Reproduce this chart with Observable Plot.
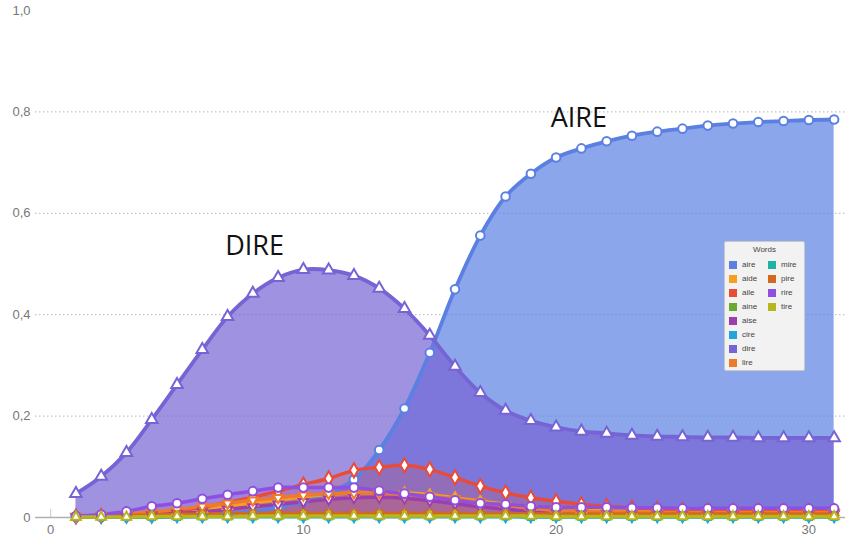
<!DOCTYPE html>
<html><head><meta charset="utf-8">
<script src="https://cdn.jsdelivr.net/npm/d3@7"></script>
<script src="https://cdn.jsdelivr.net/npm/@observablehq/plot@0.6"></script>
<style>
body{margin:0;background:#fff;}
#wrap{position:relative;width:845px;height:539px;overflow:hidden;}
#legend{position:absolute;left:724px;top:241px;width:81px;height:130px;background:#f2f2f2;border:1px solid #c9c9c9;border-radius:2px;box-sizing:border-box;font-family:"Liberation Sans",Arial,sans-serif;color:#444;}
#legend .title{position:absolute;left:0;right:0;top:3px;text-align:center;font-size:8px;}
#legend .item{position:absolute;font-size:8px;line-height:8px;white-space:nowrap;}
#legend .sw{display:inline-block;width:8px;height:8px;vertical-align:top;margin-right:5px;}
</style>
</head><body>
<div id="wrap"><div id="chart"></div><div id="legend"><div class="title">Words</div></div></div>
<script>
// ---- data ----
const steps = [1,2,3,4,5,6,7,8,9,10,11,12,13,14,15,16,17,18,19,20,21,22,23,24,25,26,27,28,29,30,31];
const words  = ["aire","aide","aile","aine","aise","cire","dire","lire","mire","pire","rire","tire"];
const colors = ["#5b80e2","#f5a020","#e84b38","#6aaa2e","#9b3fae","#22a5dc","#7664d4","#ef7a2c","#1fb3a6","#d2691c","#8f4fe0","#b9b51c"];

const aire = [0.001,0.001,0.002,0.002,0.003,0.004,0.007,0.012,0.020,0.031,0.048,0.075,0.133,0.215,0.325,0.450,0.556,0.633,0.678,0.710,0.728,0.742,0.753,0.761,0.767,0.773,0.777,0.780,0.782,0.784,0.785];
const aide = [0.001,0.002,0.004,0.007,0.011,0.016,0.022,0.029,0.035,0.041,0.046,0.049,0.050,0.049,0.045,0.039,0.032,0.026,0.021,0.017,0.015,0.013,0.012,0.011,0.011,0.010,0.010,0.010,0.010,0.010,0.010];
const aile = [0.002,0.003,0.005,0.008,0.013,0.020,0.030,0.040,0.052,0.065,0.077,0.093,0.099,0.103,0.095,0.079,0.062,0.049,0.039,0.032,0.026,0.022,0.019,0.017,0.015,0.014,0.013,0.013,0.012,0.012,0.012];
const aine = [0.001,0.001,0.002,0.002,0.003,0.003,0.004,0.004,0.005,0.005,0.005,0.005,0.005,0.005,0.005,0.005,0.004,0.004,0.004,0.004,0.004,0.004,0.004,0.004,0.004,0.004,0.004,0.004,0.004,0.004,0.004];
const aise = [0.001,0.002,0.003,0.005,0.008,0.011,0.016,0.021,0.026,0.031,0.036,0.039,0.040,0.038,0.033,0.027,0.021,0.016,0.012,0.010,0.009,0.008,0.008,0.007,0.007,0.007,0.007,0.007,0.007,0.007,0.007];
const cire = [0.001,0.001,0.001,0.001,0.002,0.002,0.002,0.002,0.002,0.002,0.002,0.002,0.002,0.002,0.002,0.002,0.002,0.002,0.002,0.002,0.002,0.002,0.002,0.002,0.002,0.002,0.002,0.002,0.002,0.002,0.002];
const dire = [0.047,0.081,0.128,0.193,0.262,0.331,0.396,0.442,0.473,0.489,0.488,0.477,0.452,0.412,0.359,0.298,0.246,0.211,0.191,0.178,0.170,0.166,0.162,0.160,0.159,0.158,0.158,0.157,0.157,0.157,0.157];
const lire = [0.002,0.004,0.007,0.011,0.016,0.022,0.028,0.034,0.039,0.044,0.047,0.048,0.048,0.046,0.042,0.037,0.030,0.024,0.018,0.014,0.012,0.011,0.011,0.010,0.010,0.010,0.010,0.010,0.010,0.010,0.010];
const mire = [0.001,0.001,0.001,0.001,0.001,0.002,0.002,0.002,0.002,0.002,0.002,0.002,0.002,0.002,0.002,0.002,0.002,0.002,0.001,0.001,0.001,0.001,0.001,0.001,0.001,0.001,0.001,0.001,0.001,0.001,0.001];
const pire = [0.002,0.003,0.004,0.005,0.006,0.007,0.007,0.008,0.008,0.008,0.008,0.008,0.008,0.008,0.008,0.008,0.007,0.007,0.007,0.007,0.007,0.007,0.007,0.007,0.007,0.007,0.007,0.007,0.007,0.007,0.007];
const rire = [0.003,0.006,0.012,0.022,0.028,0.037,0.045,0.052,0.059,0.059,0.059,0.059,0.053,0.047,0.041,0.034,0.028,0.026,0.022,0.020,0.020,0.020,0.019,0.019,0.018,0.018,0.018,0.018,0.018,0.018,0.018];
const tire = [0.001,0.001,0.001,0.002,0.002,0.002,0.002,0.003,0.003,0.003,0.003,0.003,0.003,0.003,0.003,0.003,0.003,0.003,0.003,0.002,0.002,0.002,0.002,0.002,0.002,0.002,0.002,0.002,0.002,0.002,0.002];

const yTicks = [0,0.2,0.4,0.6,0.8,1.0];
const gridTicks = [0.2,0.4,0.6,0.8];
const xTicks = [0,10,20,30];
const labelText = ["AIRE","DIRE"];
const labelX = [20.9,8.07];
const labelY = [0.787,0.535];

// ---- build ----
const valuesByWord = {aire,aide,aile,aine,aise,cire,dire,lire,mire,pire,rire,tire};
const sqrt3 = Math.sqrt(3);
const triangleDown = {draw(ctx, size){const y = -Math.sqrt(size/(sqrt3*3)); ctx.moveTo(0,-y*2); ctx.lineTo(-sqrt3*y,y); ctx.lineTo(sqrt3*y,y); ctx.closePath();}};
const symbols = {aire:"circle",aide:"triangle",aile:"diamond",aine:"square",aise:triangleDown,cire:"diamond",dire:"triangle",lire:triangleDown,mire:"square",pire:"square",rire:"circle",tire:"triangle"};
const colorOf = Object.fromEntries(words.map((w,i)=>[w,colors[i]]));
const seriesData = w => steps.map((s,i)=>({step:s, value:valuesByWord[w][i], word:w}));
const big = new Set(["aire","dire"]);

const marks = [
  Plot.ruleY(gridTicks,{stroke:"#b5b5b5",strokeDasharray:"1.5,2.5",strokeWidth:1}),
  Plot.ruleY([0],{stroke:"#b0b0b0",strokeWidth:1.5}),
  Plot.ruleX([xTicks[0]],{y1:0,y2:0.016,stroke:"#c8c8c8",strokeWidth:1})
];
const areaOrder = ["aire","dire",...words.filter(w=>!big.has(w))];
for (const w of areaOrder) {
  marks.push(Plot.areaY(seriesData(w),{x:"step",y:"value",fill:colorOf[w],fillOpacity:big.has(w)?0.7:0.2,curve:"catmull-rom"}));
}
for (const w of words) {
  marks.push(Plot.line(seriesData(w),{x:"step",y:"value",stroke:colorOf[w],strokeWidth:big.has(w)?3.8:3.5,curve:"catmull-rom"}));
}
for (const w of words) {
  marks.push(Plot.dot(seriesData(w),{x:"step",y:"value",symbol:symbols[w],r:big.has(w)||w==="aile"||w==="rire"?4.3:3.5,fill:"white",stroke:colorOf[w],strokeWidth:2}));
}
marks.push(Plot.text(labelText.map((t,i)=>({t,x:labelX[i],y:labelY[i]})),{x:"x",y:"y",text:"t",fontSize:27,fill:"#111",fontFamily:"Open Sans",textAnchor:"middle",lineAnchor:"middle"}));

const fmt = d => d===0 ? "0" : d.toFixed(1).replace(".",",");
marks.push(Plot.axisY(yTicks,{tickSize:0,tickPadding:5,tickFormat:fmt,fontSize:13,color:"#777"}));
marks.push(Plot.axisX(xTicks,{tickSize:0,tickPadding:7,fontSize:13,color:"#777"}));

const chart = Plot.plot({
  width:845, height:539,
  marginLeft:35, marginRight:0, marginTop:10, marginBottom:22,
  style:{fontFamily:"Liberation Sans, Arial, sans-serif",background:"transparent",overflow:"visible"},
  x:{domain:[-0.6,31.45]},
  y:{domain:[0,1]},
  marks
});
document.getElementById("chart").appendChild(chart);

// legend
const leg = document.getElementById("legend");
words.forEach((w,i)=>{
  const col = i<8?0:1, row = i<8?i:i-8;
  const d = document.createElement("div");
  d.className="item";
  d.style.left=(col===0?4:43)+"px";
  d.style.top=(19+row*14)+"px";
  d.innerHTML=`<span class="sw" style="background:${colors[i]}"></span>${w}`;
  leg.appendChild(d);
});
</script>
</body></html>
